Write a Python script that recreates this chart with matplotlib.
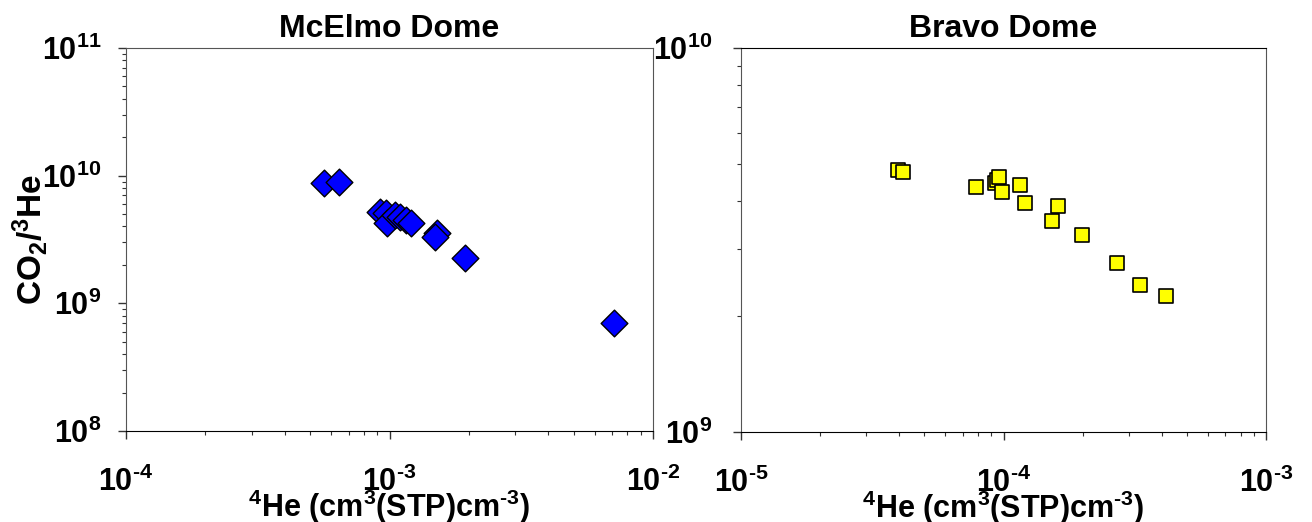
import matplotlib
matplotlib.use("Agg")
import matplotlib.pyplot as plt
from matplotlib.ticker import LogLocator, FuncFormatter, NullFormatter
import numpy as np

plt.rcParams['font.family'] = ['Liberation Sans', 'DejaVu Sans']
plt.rcParams['font.weight'] = 'bold'
plt.rcParams['mathtext.fontset'] = 'custom'
plt.rcParams['mathtext.rm'] = 'Liberation Sans:bold'
plt.rcParams['mathtext.it'] = 'Liberation Sans:bold'
plt.rcParams['mathtext.bf'] = 'Liberation Sans:bold'
plt.rcParams['mathtext.sf'] = 'Liberation Sans:bold'
plt.rcParams['mathtext.default'] = 'regular'
plt.rcParams['axes.unicode_minus'] = False

# McElmo Dome: 4He vs CO2/3He
mcelmo_he4 = [5.66e-4, 6.45e-4, 9.2e-4, 9.7e-4, 9.76e-4, 1.05e-3, 1.10e-3,
              1.16e-3, 1.21e-3, 1.51e-3, 1.49e-3, 1.93e-3, 7.11e-3]
mcelmo_ratio = [8.7e9, 8.9e9, 5.2e9, 5.1e9, 4.26e9, 4.92e9, 4.75e9,
                4.5e9, 4.26e9, 3.56e9, 3.31e9, 2.27e9, 7.06e8]

# Bravo Dome
bravo_he4 = [3.96e-5, 4.14e-5, 7.86e-5, 9.25e-5, 9.42e-5, 9.64e-5, 9.84e-5,
             1.156e-4, 1.21e-4, 1.62e-4, 1.535e-4, 1.99e-4, 2.71e-4,
             3.31e-4, 4.15e-4]
bravo_ratio = [4.81e9, 4.75e9, 4.35e9, 4.45e9, 4.53e9, 4.62e9, 4.22e9,
               4.39e9, 3.94e9, 3.88e9, 3.54e9, 3.25e9, 2.75e9,
               2.41e9, 2.26e9]

titles = ["McElmo Dome", "Bravo Dome"]
xlims = [(1e-4, 1e-2), (1e-5, 1e-3)]
ylims = [(1e8, 1e11), (1e9, 1e10)]
xlabel = r"$^{4}$He (cm$^{3}$(STP)cm$^{\text{-}3}$)"
ylabel = r"CO$_{2}$/$^{3}$He"

fig = plt.figure(figsize=(13.12, 5.22), dpi=100)
ax1 = fig.add_axes([126/1312, 91/522, 527/1312, 383/522])
ax2 = fig.add_axes([741/1312, 90/522, 525/1312, 384/522])

ax1.scatter(mcelmo_he4, mcelmo_ratio, marker='D', s=185, c='#0000ff',
            edgecolors='black', linewidths=1.0, zorder=3)
ax2.scatter(bravo_he4, bravo_ratio, marker='s', s=115, c='#ffff00',
            edgecolors='black', linewidths=1.2, zorder=3)

def fmt(v, pos):
    # hyphen through \text, mathtext would draw '-' as a long minus
    e = int(round(np.log10(v)))
    if e < 0:
        return r"$10^{\text{-}%d}$" % (-e)
    return r"$10^{%d}$" % e

for i, ax in enumerate([ax1, ax2]):
    ax.set_xscale('log')
    ax.set_yscale('log')
    ax.set_xlim(*xlims[i])
    ax.set_ylim(*ylims[i])
    ax.set_title(titles[i], fontsize=23, fontweight='bold', pad=8)
    ax.set_xlabel(xlabel, fontsize=22, fontweight='bold', labelpad=-8)
    for a in (ax.xaxis, ax.yaxis):
        a.set_major_locator(LogLocator(base=10, numticks=10))
        a.set_minor_locator(LogLocator(base=10, subs=np.arange(2, 10), numticks=10))
        a.set_major_formatter(FuncFormatter(fmt))
        a.set_minor_formatter(NullFormatter())
    ax.tick_params(which='major', direction='out', length=6, width=1,
                   labelsize=22, color='#333333')
    ax.tick_params(which='minor', direction='out', length=3, width=0.8,
                   color='#333333')
    ax.tick_params(axis='x', which='major', pad=20)
    for s in ['left', 'right', 'top']:
        ax.spines[s].set_color('#555555')
    ax.spines['bottom'].set_color('black')
    for lab in ax.get_xticklabels() + ax.get_yticklabels():
        lab.set_fontweight('bold')

ax2.spines['top'].set_color('black')
ax1.tick_params(axis='y', which='major', pad=12)
ax2.tick_params(axis='y', which='major', pad=15)
ax1.set_ylabel(ylabel, fontsize=24, fontweight='bold', labelpad=-6)

fig.savefig("out.png", dpi=100)
